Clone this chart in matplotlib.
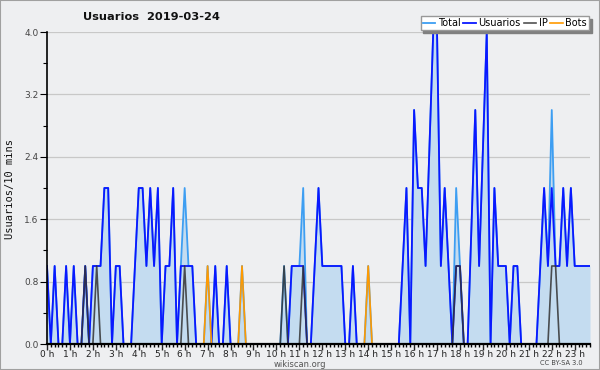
import matplotlib
matplotlib.use("Agg")
import matplotlib.pyplot as plt
from matplotlib.patches import Rectangle
import numpy as np

# one value per 10 minutes, 00:00 .. 23:40
usuarios = [1, 0, 1, 0, 0, 1, 0, 1, 0, 0,
            1, 0, 1, 1, 1, 2, 2, 0, 1, 1,
            0, 0, 0, 1, 2, 2, 1, 2, 1, 2,
            0, 1, 1, 2, 0, 1, 1, 1, 1, 0,
            0, 0, 0, 0, 1, 0, 0, 1, 0, 0,
            0, 0, 0, 0, 0, 0, 0, 0, 0, 0,
            0, 0, 0, 0, 1, 1, 1, 1, 0, 0,
            1, 2, 1, 1, 1, 1, 1, 1, 0, 0,
            1, 0, 0, 0, 0, 0, 0, 0, 0, 0,
            0, 0, 0, 1, 2, 0, 3, 2, 2, 1,
            2.5, 4, 4, 1, 2, 1, 0, 1, 1, 0,
            0, 1.5, 3, 1, 2.5, 4, 0, 2, 1, 1,
            1, 0, 1, 1, 0, 0, 0, 0, 0, 1,
            2, 1, 2, 1, 1, 2, 1, 2, 1, 1,
            1, 1, 1]
# total differs from usuarios only at these slots
total_extra = {36: 2, 42: 1, 51: 1, 62: 1, 67: 2, 84: 1, 107: 2, 132: 3}
ip_slots = [10, 13, 36, 62, 67, 107, 108, 132, 133]
bots_slots = [42, 51, 84]
hour_labels = [f"{h} h" for h in range(24)]
y_ticks = [0.0, 0.8, 1.6, 2.4, 3.2, 4.0]

n = len(usuarios)
x = np.arange(n)
usuarios = np.array(usuarios, dtype=float)
total = usuarios.copy()
for k, v in total_extra.items():
    total[k] = v
ip = np.zeros(n)
ip[ip_slots] = 1
bots = np.zeros(n)
bots[bots_slots] = 1

bg = "#eeeff1"
fig = plt.figure(figsize=(6, 3.7), dpi=100, facecolor=bg)
ax = fig.add_axes([47 / 600, 26 / 370, 543 / 600, 312 / 370], facecolor=bg)

ax.fill_between(x, total, 0, color="#c4dcf0", lw=0, zorder=1)
ax.plot(x, total, color="#3d9ef2", lw=1.3, zorder=2, label="Total")
ax.plot(x, usuarios, color="#0a18ff", lw=1.3, zorder=3, label="Usuarios")
ax.plot(x, ip, color="#333333", lw=1.2, alpha=0.85, zorder=4, label="IP")
ax.plot(x, bots, color="#ff9a00", lw=1.2, zorder=5, label="Bots")

ax.set_xlim(0, n - 1)
ax.set_ylim(0, 4)
ax.set_xticks(np.arange(0, n, 6))
ax.set_xticklabels(hour_labels)
ax.set_xticks(np.arange(0, n), minor=True)
ax.set_yticks(y_ticks)
ax.set_yticklabels([f"{v:.1f}" for v in y_ticks])
ax.set_yticks(np.arange(0.4, 4.0, 0.8), minor=True)
ax.tick_params(axis="x", which="major", length=4, width=1, labelsize=6.5, colors="#222", pad=0.5)
ax.tick_params(axis="x", which="minor", length=2.5, width=1)
ax.tick_params(axis="y", which="major", length=5, width=0.8, labelsize=6.5, labelcolor="#444", pad=1)
ax.tick_params(axis="y", which="minor", length=3, width=0.8)
ax.grid(axis="y", color="#c8c8c8", lw=0.9, zorder=0)
for s in ["top", "right"]:
    ax.spines[s].set_visible(False)
ax.spines["left"].set_linewidth(1.2)
ax.spines["bottom"].set_linewidth(1.6)
for s in ["left", "bottom"]:
    ax.spines[s].set_zorder(10)
ax.set_axisbelow(True)

fig.text(0.252, 0.953, "Usuarios  2019-03-24", ha="center", va="center",
         fontsize=8.2, fontweight="bold", color="#111")
fig.text(0.016, 0.49, "Usuarios/10 mins", rotation=90, ha="center", va="center",
         fontsize=7.5, family="DejaVu Sans Mono", color="#111")
fig.text(0.5, 0.014, "wikiscan.org", ha="center", va="center", fontsize=6, color="#555")
fig.text(0.935, 0.018, "CC BY-SA 3.0", ha="center", va="center", fontsize=4.8, color="#444")

leg = fig.legend(loc="upper right", bbox_to_anchor=(589 / 600, 1 - 16 / 370), ncol=4,
                 fontsize=7, frameon=True, fancybox=False, edgecolor="#999999",
                 shadow={"color": "#808080", "alpha": 1.0},
                 handlelength=1.3, handletextpad=0.25, columnspacing=0.3,
                 borderpad=0.2, borderaxespad=0)
leg.get_frame().set_linewidth(1)
leg.get_frame().set_facecolor("white")

fig.patches.append(Rectangle((0, 0), 1, 1, transform=fig.transFigure, fill=False,
                             edgecolor="#a0a0a0", lw=1.5))

fig.savefig("out.png", dpi=100, facecolor=bg)
